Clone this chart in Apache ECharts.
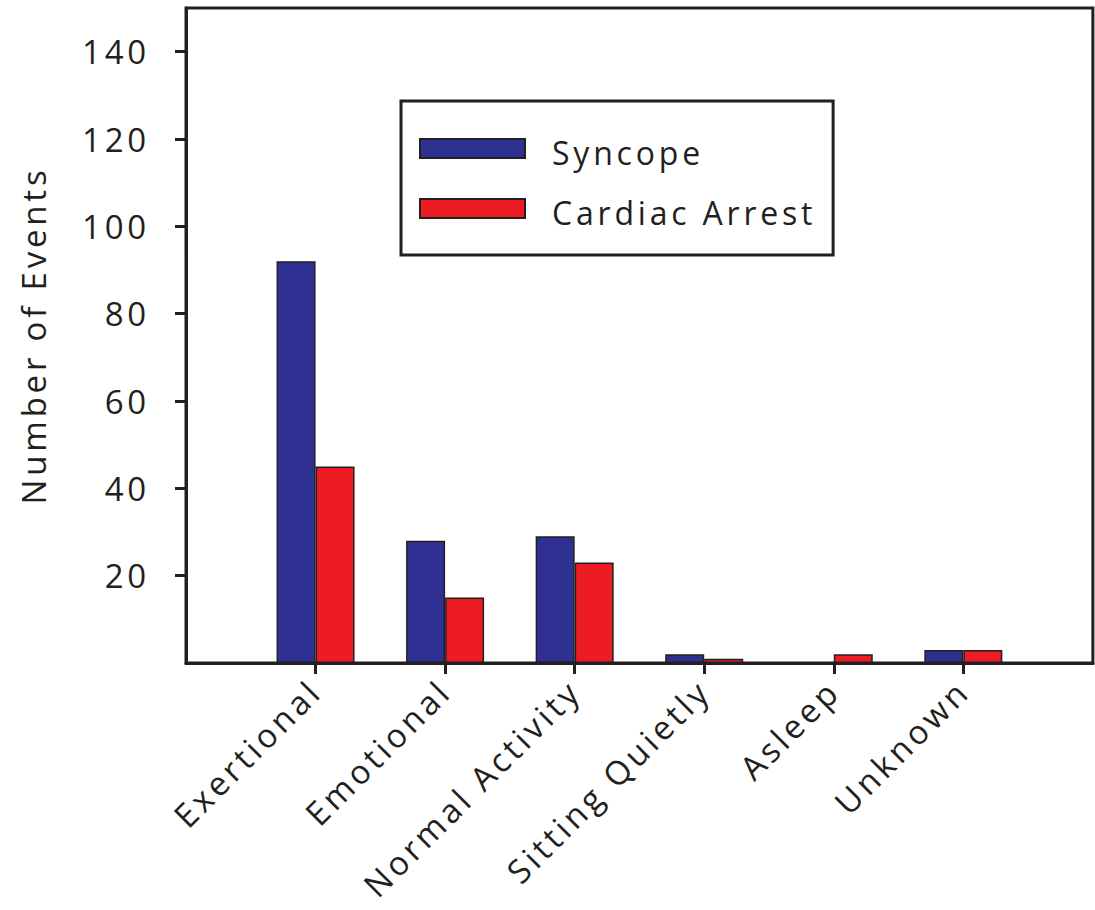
<!DOCTYPE html>
<html>
<head>
<meta charset="utf-8">
<script src="https://cdn.jsdelivr.net/npm/echarts@6/dist/echarts.min.js"></script>
<style>
  html, body { margin: 0; padding: 0; background: #fff; }
  #chart { width: 1095px; height: 910px; }
  #chart text { letter-spacing: 3.8px; }
</style>
</head>
<body>
<div id="chart"></div>
<script>
const categories = ['Exertional', 'Emotional', 'Normal Activity', 'Sitting Quietly', 'Asleep', 'Unknown'];
const syncope = [92, 28, 29, 2, 0, 3];
const cardiacArrest = [45, 15, 23, 1, 2, 3];
const yTickLabels = [20, 40, 60, 80, 100, 120, 140];
const seriesNames = ['Syncope', 'Cardiac Arrest'];

// pad with an empty slot on each side so the categories sit at 1..6 of a 0..7 axis
const axisCats = [''].concat(categories, ['']);
const pad = arr => ['-'].concat(arr, ['-']);

const ink = '#231F20';
const font = 'Open Sans';

const chart = echarts.init(document.getElementById('chart'), null, { renderer: 'svg' });
chart.setOption({
  backgroundColor: '#fff',
  animation: false,
  textStyle: { fontFamily: font, color: ink },
  grid: {
    left: 186, right: 2, top: 8, bottom: 247,
    show: true, borderColor: ink, borderWidth: 3, backgroundColor: 'transparent'
  },
  legend: {
    orient: 'vertical',
    left: 401, top: 101,
    padding: [28, 70, 27, 18],
    borderColor: ink, borderWidth: 3,
    itemWidth: 105, itemHeight: 19, itemGap: 21,
    icon: 'rect',
    data: seriesNames,
    formatter: name => '{t|' + name + '}',
    textStyle: {
      fontFamily: font, fontSize: 32, color: ink, padding: [0, 0, 0, 22],
      rich: { t: { fontFamily: font, fontSize: 32, color: ink, lineHeight: 32, padding: [7, 0, 0, 0] } }
    }
  },
  xAxis: {
    type: 'category',
    data: axisCats,
    boundaryGap: false,
    axisLine: { lineStyle: { color: ink, width: 3 } },
    axisTick: { show: true, length: 11, lineStyle: { color: ink, width: 3 },
      interval: (i, v) => v !== '' },
    axisLabel: { interval: 0, rotate: 45, margin: 22, fontSize: 33, color: ink, fontFamily: font },
    splitLine: { show: false }
  },
  yAxis: {
    type: 'value',
    min: 0, max: 150,
    name: 'Number of Events',
    nameLocation: 'middle',
    nameGap: 136,
    nameTextStyle: { fontSize: 33, color: ink, fontFamily: font },
    axisLine: { show: true, lineStyle: { color: ink, width: 3 } },
    axisTick: { show: true, length: 11, lineStyle: { color: ink, width: 3 }, customValues: yTickLabels },
    axisLabel: { margin: 36, fontSize: 33, color: ink, fontFamily: font, customValues: yTickLabels },
    splitLine: { show: false }
  },
  series: [
    {
      name: seriesNames[0], type: 'bar', data: pad(syncope),
      barWidth: 39, barGap: '0%',
      itemStyle: { color: '#2E3192', borderColor: ink, borderWidth: 1.5 }
    },
    {
      name: seriesNames[1], type: 'bar', data: pad(cardiacArrest),
      barWidth: 39, barGap: '0%',
      itemStyle: { color: '#ED1C24', borderColor: ink, borderWidth: 1.5 }
    }
  ]
});
</script>
</body>
</html>
